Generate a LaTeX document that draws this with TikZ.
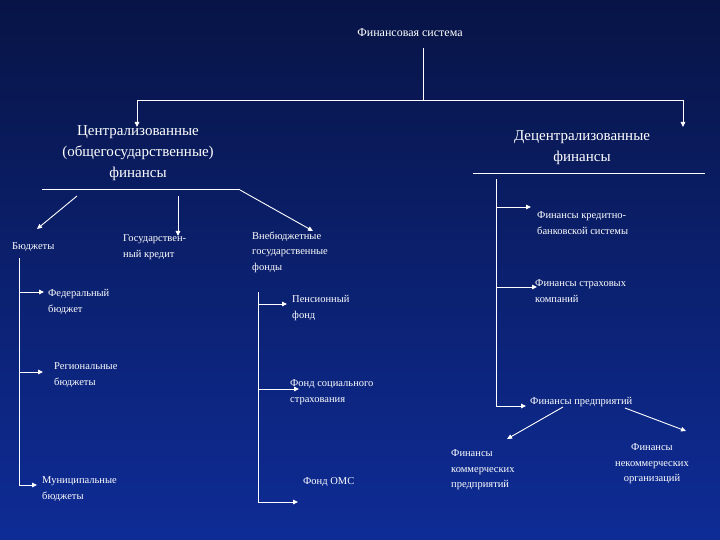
\documentclass[tikz,border=0pt]{standalone}
\usepackage{fontspec}
\setmainfont{Liberation Serif}
\usetikzlibrary{arrows.meta}
\begin{document}
\begin{tikzpicture}[x=1pt,y=-1pt,
  ln/.style={draw=white,line width=0.9pt},
  ar/.style={ln,-{Triangle[length=5pt,width=4.5pt]}},
  big/.style={text=white,font=\fontsize{15}{21}\selectfont,align=center,inner sep=0pt},
  sm/.style={text=white,font=\fontsize{10.5}{15.5}\selectfont,align=left,inner sep=0pt,anchor=west},
  smc/.style={sm,align=center,anchor=center}]
\shade[top color={rgb,255:red,8;green,20;blue,70},bottom color={rgb,255:red,14;green,44;blue,150}] (0,0) rectangle (720,540);
\useasboundingbox (0,0) rectangle (720,540);
\node[text=white,font=\fontsize{12}{13}\selectfont,inner sep=0pt] (fs) at (410,33) {Финансовая система};
\node[big] (cen) at (138,153) {Централизованные\\(общегосударственные)\\финансы};
\node[big] (dec) at (582,148) {Децентрализованные\\финансы};
\coordinate (top) at (423,48); \coordinate (topj) at (423,100);
\coordinate (tl) at (137,100); \coordinate (tr) at (683,100);
\draw[ln] (top) -- (topj);
\draw[ln] (tl) -- (tr);
\draw[ar] (tl) -- (137,127);
\draw[ar] (tr) -- (683,127);
\draw[ln] (42,189) -- (240,189);
\draw[ln] (473,173) -- (705,173);
\node[sm] (bud) at (12,247) {Бюджеты};
\node[sm] (kred) at (123,247) {Государствен-\\ный кредит};
\node[sm] (vne) at (252,252) {Внебюджетные\\государственные\\фонды};
\draw[ar] (77,196) -- (37,229);
\draw[ar] (178,196) -- (178,236);
\draw[ar] (240,190) -- (313,231);
\node[sm] (fed) at (48,302) {Федеральный\\бюджет};
\node[sm] (reg) at (54,375) {Региональные\\бюджеты};
\node[sm] (mun) at (42,489) {Муниципальные\\бюджеты};
\draw[ln] (19,258) -- (19,485);
\draw[ar] (19,292) -- (44,292);
\draw[ar] (19,372) -- (43,372);
\draw[ar] (19,485) -- (37,485);
\node[sm] (pen) at (292,308) {Пенсионный\\фонд};
\node[sm] (soc) at (290,392) {Фонд социального\\страхования};
\node[sm] (oms) at (303,482) {Фонд ОМС};
\draw[ln] (258,292) -- (258,502);
\draw[ar] (258,304) -- (287,304);
\draw[ar] (258,389) -- (299,389);
\draw[ar] (258,502) -- (298,502);
\node[sm] (kb) at (537,223) {Финансы кредитно-\\банковской системы};
\node[sm] (str) at (535,291) {Финансы страховых\\компаний};
\node[sm] (pr) at (530,402) {Финансы предприятий};
\draw[ln] (496,179) -- (496,406);
\draw[ar] (496,207) -- (531,207);
\draw[ar] (496,287) -- (537,287);
\draw[ar] (496,406) -- (526,406);
\node[sm] (kom) at (451,470) {Финансы\\коммерческих\\предприятий};
\node[smc] (nek) at (652,464) {Финансы\\некоммерческих\\организаций};
\draw[ar] (563,407) -- (507,439);
\draw[ar] (625,408) -- (686,431);
\end{tikzpicture}
\end{document}
